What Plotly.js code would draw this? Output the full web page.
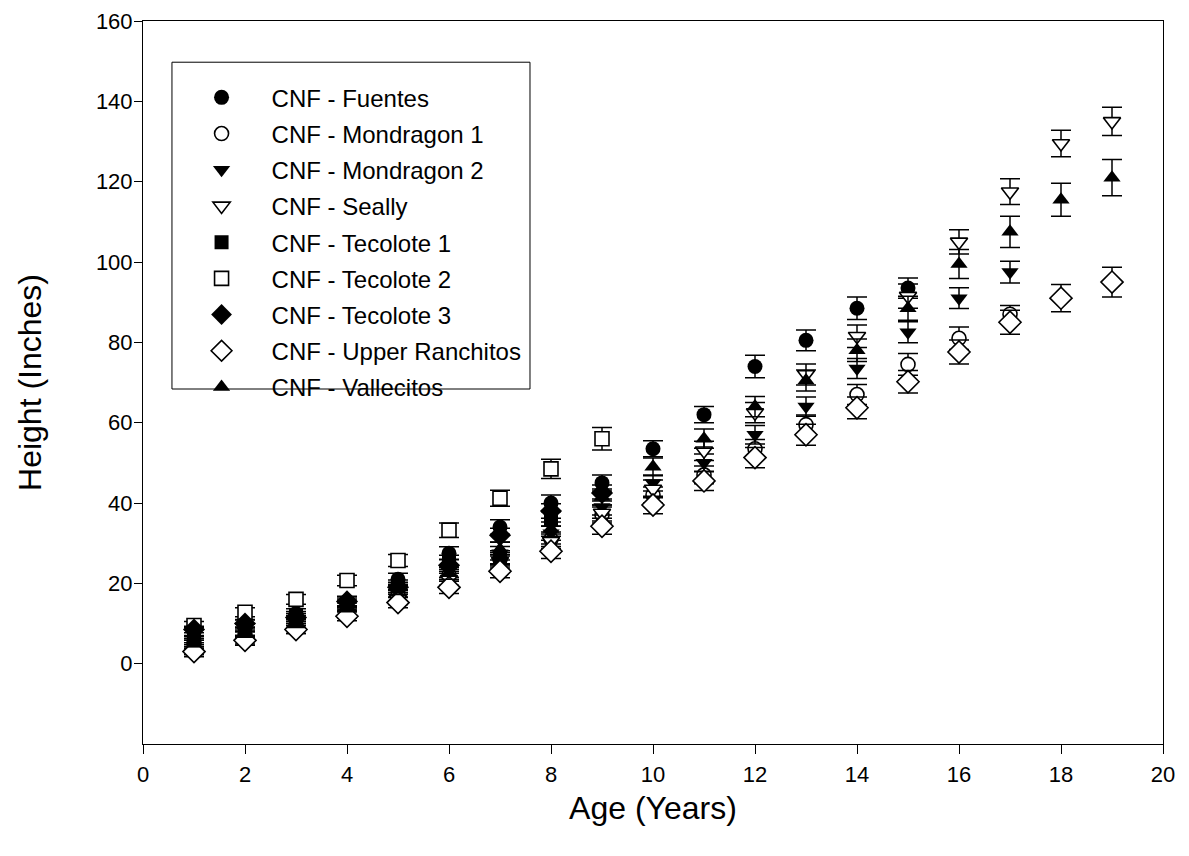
<!DOCTYPE html>
<html>
<head>
<meta charset="utf-8">
<script src="https://cdn.plot.ly/plotly-3.0.1.min.js"></script>
<style>html,body{margin:0;padding:0;background:#fff;}#chart{width:1189px;height:856px;}</style>
</head>
<body>
<div id="chart"></div>
<script>
// ---- data (ages in years, mean height in inches, error = SE) ----
const seriesNames = ["CNF - Fuentes","CNF - Mondragon 1","CNF - Mondragon 2","CNF - Seally","CNF - Tecolote 1","CNF - Tecolote 2","CNF - Tecolote 3","CNF - Upper Ranchitos","CNF - Vallecitos"];

const fuentesAge = [1,2,3,4,5,6,7,8,9,10,11,12,13,14,15];
const fuentesHt  = [8,10,12.5,15.5,21,27.5,34,40,45,53.5,62,74,80.5,88.5,93.5];
const fuentesErr = [1,1,1.2,1.3,1.5,1.6,1.8,2,2,2,2,2.8,2.6,2.8,2.5];

const mond1Age = [1,2,3,4,5,6,7,8,9,10,11,12,13,14,15,16,17];
const mond1Ht  = [5,7,9.5,13,17,22,26,31,37,42,47,53.5,59.5,67,74.5,81,87];
const mond1Err = [0.8,0.9,1,1.2,1.4,1.5,1.7,1.8,2,2,2.2,2.3,2.4,2.5,2.7,2.8,2.2];

const mond2Age = [1,2,3,4,5,6,7,8,9,10,11,12,13,14,15,16,17];
const mond2Ht  = [5.5,8,11,14.5,18,23,27.5,32.5,39,45,50,57,64,73.5,82.5,91,97.5];
const mond2Err = [0.8,0.9,1,1.2,1.4,1.5,1.7,1.8,2,2,2.2,2.3,2.4,2.5,2.6,2.6,2.7];

const seallyAge = [1,2,3,4,5,6,7,8,9,10,11,12,13,14,15,16,17,18,19];
const seallyHt  = [2.5,5.5,8.5,12.5,16,21,25.5,30.5,37.5,43.5,53,62.5,72,81.5,91.5,105,117.5,129.5,135];
const seallyErr = [0.8,0.9,1,1.1,1.3,1.5,1.7,1.8,2,2.2,2.4,2.5,2.6,2.8,3,3,3.2,3.3,3.5];

const tec1Age = [1,2,3,4,5,6,7,8];
const tec1Ht  = [6,9,12,15,19.5,25.5,26.5,36];
const tec1Err = [0.8,0.9,1,1.1,1.3,1.5,1.6,1.8];

const tec2Age = [1,2,3,4,5,6,7,8,9];
const tec2Ht  = [9.5,12.8,16,20.7,25.7,33.2,41.2,48.5,56];
const tec2Err = [1,1.1,1.2,1.3,1.5,1.8,2,2.4,2.8];

const tec3Age = [1,2,3,4,5,6,7,8,9];
const tec3Ht  = [8.5,10,11.5,15.5,19,24.5,32,38,42.5];
const tec3Err = [0.8,0.9,1,1.1,1.3,1.5,1.7,1.8,2];

const urAge = [1,2,3,4,5,6,7,8,9,10,11,12,13,14,15,16,17,18,19];
const urHt  = [3,5.8,8.5,11.8,15.2,19,23,28,34.2,39.5,45.5,51.3,57,63.7,70.2,77.6,85,91,95];
const urErr = [0.8,0.9,1,1.1,1.3,1.5,1.6,1.8,2,2.2,2.4,2.5,2.6,2.7,2.8,3,3,3.4,3.7];

const vallAge = [1,2,3,4,5,6,7,8,9,10,11,12,13,14,15,16,17,18,19];
const vallHt  = [5,7.5,10,14,18.5,22.5,28.5,33.5,41.5,49,56,64,70.5,78,88.5,99.5,107.5,115.5,121];
const vallErr = [0.8,0.9,1,1.1,1.3,1.5,1.7,1.8,2,2.2,2.4,2.5,2.6,2.8,3,3.6,3.9,4.1,4.5];

const xTicks = [0,2,4,6,8,10,12,14,16,18,20];
const yTicks = [0,20,40,60,80,100,120,140,160];

// ---- styling ----
const FONT = "Arial, 'Liberation Sans', Helvetica, sans-serif";
function mk(name, age, ht, err, symbol, filled, size, grp) {
  return {
    type: "scatter", mode: "markers", name: name, x: age, y: ht,
    legendgroup: grp,
    error_y: {type: "data", array: err, visible: true, color: "#000", thickness: 1.5, width: 10},
    marker: {symbol: symbol, size: size, color: filled ? "#000" : "#fff",
             line: {color: "#000", width: filled ? 0 : 1.6}},
    cliponaxis: false
  };
}
const traces = [
  mk(seriesNames[0], fuentesAge, fuentesHt, fuentesErr, "circle", true, 15, "g1"),
  mk(seriesNames[1], mond1Age, mond1Ht, mond1Err, "circle", false, 14, "g2"),
  mk(seriesNames[2], mond2Age, mond2Ht, mond2Err, "triangle-down", true, 15, "g3"),
  mk(seriesNames[3], seallyAge, seallyHt, seallyErr, "triangle-down", false, 15, "g4"),
  mk(seriesNames[4], tec1Age, tec1Ht, tec1Err, "square", true, 14, "g5"),
  mk(seriesNames[5], tec2Age, tec2Ht, tec2Err, "square", false, 14, "g6"),
  mk(seriesNames[6], tec3Age, tec3Ht, tec3Err, "diamond", true, 17, "g7"),
  mk(seriesNames[7], urAge, urHt, urErr, "diamond", false, 17, "g8"),
  mk(seriesNames[8], vallAge, vallHt, vallErr, "triangle-up", true, 15, "g9")
];

const layout = {
  width: 1189, height: 856,
  margin: {l: 143, r: 26, t: 21, b: 112},
  paper_bgcolor: "#fff", plot_bgcolor: "#fff",
  font: {family: FONT, color: "#000", size: 22},
  showlegend: true,
  legend: {
    x: 0.028, y: 0.925, xanchor: "left", yanchor: "top",
    bgcolor: "rgba(0,0,0,0)", borderwidth: 0,
    font: {family: FONT, size: 24, color: "#000"},
    tracegroupgap: 2, itemwidth: 90
  },
  shapes: [{type: "rect", xref: "paper", yref: "paper", x0: 0.0284, x1: 0.3794, y0: 0.491, y1: 0.943,
            line: {color: "#000", width: 1}, fillcolor: "rgba(0,0,0,0)", layer: "above"}],
  xaxis: {
    range: [0, 20], tickvals: xTicks, ticktext: xTicks.map(String),
    ticks: "outside", ticklen: 9, tickwidth: 1, tickcolor: "#000",
    showline: true, linecolor: "#000", linewidth: 1, mirror: true,
    showgrid: false, zeroline: false,
    tickfont: {size: 22}, ticklabelstandoff: 2,
    title: {text: "Age (Years)", font: {size: 32}, standoff: 10}
  },
  yaxis: {
    range: [-20, 160], tickvals: yTicks, ticktext: yTicks.map(String),
    ticks: "outside", ticklen: 8, tickwidth: 1, tickcolor: "#000",
    showline: true, linecolor: "#000", linewidth: 1, mirror: true,
    showgrid: false, zeroline: false,
    tickfont: {size: 22}, ticklabelstandoff: -3,
    title: {text: "Height (Inches)", font: {size: 32}, standoff: 44}
  }
};
Plotly.newPlot("chart", traces, layout, {displayModeBar: false, staticPlot: true});
</script>
</body>
</html>
